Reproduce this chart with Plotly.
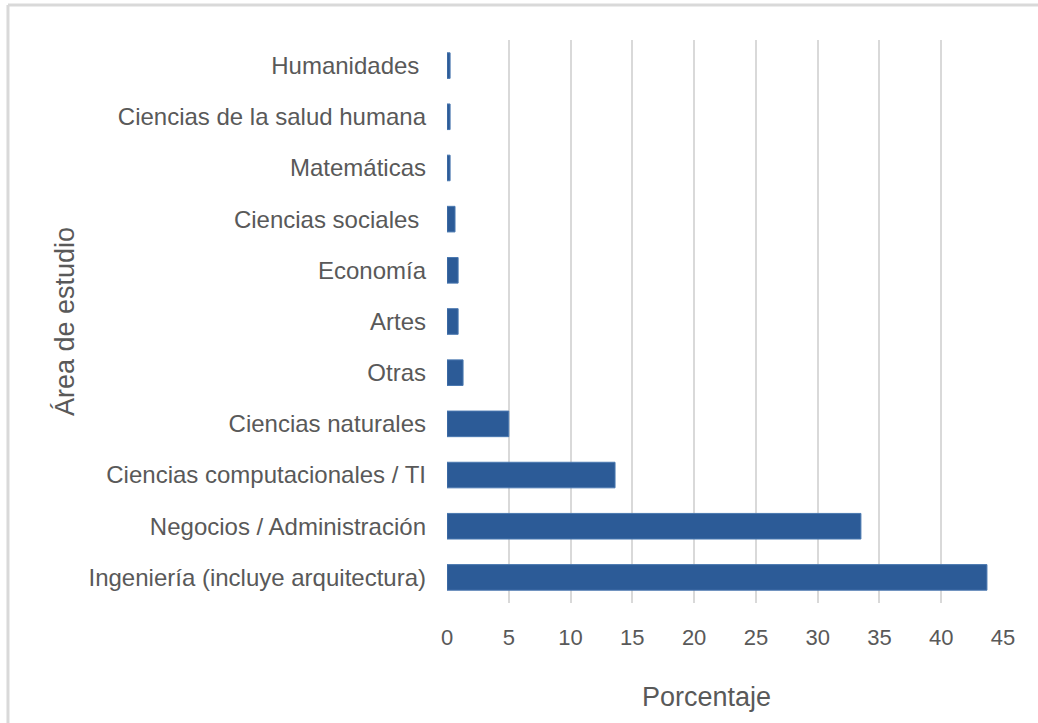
import plotly.graph_objects as go

categorias = [
    "Ingeniería (incluye arquitectura)",
    "Negocios / Administración",
    "Ciencias computacionales / TI",
    "Ciencias naturales",
    "Otras",
    "Artes",
    "Economía",
    "Ciencias sociales ",
    "Matemáticas",
    "Ciencias de la salud humana",
    "Humanidades ",
]
porcentajes = [43.7, 33.5, 13.6, 5.0, 1.3, 0.9, 0.9, 0.65, 0.25, 0.25, 0.25]
ticks_x = [0, 5, 10, 15, 20, 25, 30, 35, 40, 45]

font_fam = "Liberation Sans, Arial, Helvetica, sans-serif"
gris = "#595959"

fig = go.Figure(go.Bar(
    x=porcentajes, y=categorias, orientation="h",
    marker=dict(color="#2c5b97", line=dict(color="#4a78b0", width=1)),
    width=0.5,
))

fig.update_layout(
    width=1038, height=723,
    margin=dict(l=447, r=35, t=40, b=120),
    paper_bgcolor="white", plot_bgcolor="white",
    showlegend=False,
    font=dict(family=font_fam, color=gris, size=24),
    shapes=[
        dict(type="line", xref="paper", yref="paper", x0=-0.7896, x1=1.1, y0=1.0622, y1=1.0622,
             line=dict(color="#d9d9d9", width=3)),
        dict(type="line", xref="paper", yref="paper", x0=-0.7896, x1=-0.7896, y0=-0.22, y1=1.0622,
             line=dict(color="#d9d9d9", width=3)),
    ],
    annotations=[
        dict(text="Porcentaje", xref="paper", yref="paper", x=0.4676, y=-0.167,
             xanchor="center", yanchor="middle", showarrow=False,
             font=dict(size=27, color=gris)),
    ],
)
fig.update_xaxes(
    range=[0, 45], tickvals=ticks_x, showgrid=True, gridcolor="#d9d9d9", gridwidth=2,
    zeroline=False, showline=False, ticks="", ticklabelstandoff=19,
    tickfont=dict(size=22, color=gris),
    fixedrange=True,
)
fig.update_yaxes(
    categoryorder="array", categoryarray=categorias,
    showgrid=False, zeroline=False, showline=False, ticks="", ticklabelstandoff=20,
    tickfont=dict(size=24, color=gris),
    title=dict(text="Área de estudio", font=dict(size=27, color=gris), standoff=6),
    range=[-0.5, 10.5], fixedrange=True,
)

fig.write_html("out.html", config={"displayModeBar": False},
               post_script="document.body.style.margin='0';")
